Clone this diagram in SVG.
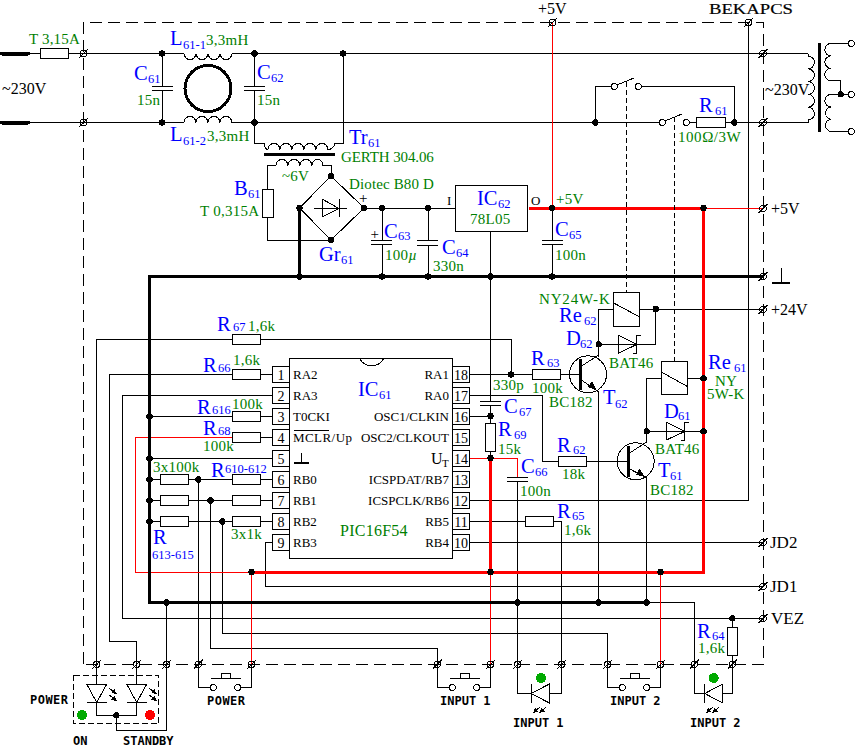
<svg xmlns="http://www.w3.org/2000/svg" width="856" height="747" viewBox="0 0 856 747">
<style>
svg{shape-rendering:crispEdges}
text{font-family:"Liberation Serif","Times New Roman",serif}
.w{fill:none;stroke:#000;stroke-width:1}
.o{fill:#fff;stroke:#000;stroke-width:1}
.e{fill:none;stroke:#000;stroke-width:1}
.f{fill:#000;stroke:none}
.r{fill:none;stroke:#f00;stroke-width:1}
.R{fill:none;stroke:#f00;stroke-width:3}
.K{fill:none;stroke:#000;stroke-width:3}
.d{fill:none;stroke:#000;stroke-width:1;stroke-dasharray:12 6}
.d2{fill:none;stroke:#000;stroke-width:1;stroke-dasharray:6 3}
.d3{fill:none;stroke:#000;stroke-width:1;stroke-dasharray:5 3}
.b{fill:#00f;font-size:20.5px}
.s{fill:#00f;font-size:12.5px}
.g{fill:#008000;font-size:15px;letter-spacing:.25px}
.k{fill:#000;font-size:16px}
.p{fill:#000;font-size:13px}
.n{fill:#000;font-size:14px;text-anchor:middle}
.m{fill:#000;font-family:"DejaVu Sans Mono","Liberation Mono",monospace;font-weight:bold;font-size:12px}
</style>
<defs>
<circle id="j" r="3.2" fill="#000"/>
<g id="t" fill="none" stroke="#000" stroke-width="1"><circle r="3.2" fill="none"/><path d="M-4.5 4.5L4.5-4.5"/></g>
<circle id="c" r="3" fill="#fff" stroke="#000" stroke-width="1"/>
<marker id="a" markerUnits="userSpaceOnUse" markerWidth="6" markerHeight="6" refX="5" refY="2.5" orient="auto"><path d="M0 0L5 2.5L0 5z" fill="#000"/></marker>
</defs>
<rect width="856" height="747" fill="#fff"/>

<g id="enclosure">
<path class="d" d="M83.5 664V22.5H763V664H83.5"/>
<text x="709" y="14" textLength="84" lengthAdjust="spacingAndGlyphs" style="font-size:15.500px;stroke:#000;stroke-width:.2">BEKAPCS</text>
</g>

<g id="connectors">
<path class="w" d="M28 53.500H40.500M68.500 53.500H184M232 53.500H808M28 122.500H184M232 122.500H659.500M689.500 122.500H696.300M725 122.500H808"/>
<path class="w" d="M162 53V86M162 90.700V122.500M254.500 53V86M254.500 90.700V143.500H264M343 53V143.500H335M267 189V165.500H276M323 165.500H331V176M267 217V240H331M331 176L364 208L331 240L299.500 208L331 176"/>
<path class="w" d="M364 208.500H455.500M382 208V240M382 244.300V276M428 208V240M428 245V276M490.500 231V401.300M490.500 405.300V423.500M490.500 451.500V458M552 208V240M552 244.300V276"/>
<path class="w" d="M595.300 122.500V86.500H611M641.500 86.500H734.300V122.500"/>
<path class="w" d="M598.700 357V309.500H613.700M639.700 309.500H763M655.700 309V344.500H598.700M661.300 378.500H646.700V442M687.700 378.500H703.500M646.700 431.500H703.500"/>
<path class="w" d="M96.700 664V339.500H232.500M260.500 339.500H511V374.500M469.300 374.500H532.300M560.700 374.500H580"/>
<path class="w" d="M136.700 664V641.700H109.300V374.500H232.500M260.500 374.500H272.300M272.300 395.500H122.300V618.500H763M149.500 416.500H232.500M260.500 416.500H272.300M260.500 437.500H272.300M149.500 458.500H272.300"/>
<path class="w" d="M149.500 479.500H160.500M188.500 479.500H232.500M260.500 479.500H272.300M149.500 500.500H160.500M188.500 500.500H232.500M260.500 500.500H272.300M149.500 521.500H160.500M188.500 521.500H232.500M260.500 521.500H272.300"/>
<path class="w" d="M198.300 479.500V664M210.500 500.500V648.500H437.300V664M222.300 521.500V633.500H607.700V664M272.300 542.500H265.300V586.500H763M469.300 542.500H763M469.300 521.500H525.300M553.300 521.500H561.700V664M469.300 500.500H748.300V22.500M469.300 416.500H490.500M469.300 395.500H542.700V461.500H558.300M586.700 461.500H628"/>
<path class="w" d="M517.700 481.300V664M598.700 392V602M646.700 478V602M646.700 602.500H694.300V664M732.300 618.300V627.500M732.300 655.500V664"/>
<path class="w" d="M166.700 602V730.500H116.300V715.300"/>
<path class="r" d="M552.500 22.500V208M703.500 208.500H763M251.500 572.500H135.500V437.500H232.500M251.500 572V664M490.500 572V664M660.500 572V664M469.300 458.500H517.700V477.300"/>
<path class="K" d="M299.500 208V276.500M763 276.500H149.500V602.500H646.700"/>
<path class="R" d="M529 208.500H703.500V572.500H251.500M490.500 458V572"/>
<g fill="none">
<use href="#t" x="83.500" y="53.500"/><use href="#t" x="83.500" y="122.500"/><use href="#t" x="552.500" y="22.500"/><use href="#t" x="748.300" y="22.500"/><use href="#t" x="763" y="53.500"/><use href="#t" x="763" y="122.500"/><use href="#t" x="763" y="208.500"/><use href="#t" x="763" y="276.500"/><use href="#t" x="763" y="309.500"/><use href="#t" x="763" y="542.500"/><use href="#t" x="763" y="586.500"/><use href="#t" x="763" y="618.500"/>
<use href="#t" x="96.700" y="664.300"/><use href="#t" x="136.700" y="664.300"/><use href="#t" x="166.700" y="664.300"/><use href="#t" x="198.300" y="664.300"/><use href="#t" x="251.500" y="664.300"/><use href="#t" x="437.300" y="664.300"/><use href="#t" x="490.500" y="664.300"/><use href="#t" x="517.700" y="664.300"/><use href="#t" x="561.700" y="664.300"/><use href="#t" x="607.700" y="664.300"/><use href="#t" x="660.500" y="664.300"/><use href="#t" x="694.300" y="664.300"/><use href="#t" x="732.300" y="664.300"/>
</g>
<g>
<use href="#j" x="162" y="53.500"/><use href="#j" x="254.500" y="53.500"/><use href="#j" x="343" y="53.500"/><use href="#j" x="162" y="122.500"/><use href="#j" x="254.500" y="122.500"/><use href="#j" x="595.300" y="122.500"/><use href="#j" x="734.300" y="122.500"/>
<use href="#j" x="331" y="176"/><use href="#j" x="331" y="240"/><use href="#j" x="299.500" y="208"/><use href="#j" x="364" y="208"/><use href="#j" x="382" y="208"/><use href="#j" x="428" y="208"/><use href="#j" x="552" y="208"/><use href="#j" x="703.500" y="208"/>
<use href="#j" x="299.500" y="276.500"/><use href="#j" x="382" y="276.500"/><use href="#j" x="428" y="276.500"/><use href="#j" x="490.500" y="276.500"/><use href="#j" x="552" y="276.500"/>
<use href="#j" x="655.700" y="309"/><use href="#j" x="598.700" y="344.300"/><use href="#j" x="511" y="374.500"/><use href="#j" x="703.500" y="378.300"/><use href="#j" x="490.500" y="416"/><use href="#j" x="646.700" y="431.300"/><use href="#j" x="703.500" y="431.300"/><use href="#j" x="490.500" y="458"/>
<use href="#j" x="149.500" y="416.500"/><use href="#j" x="149.500" y="458.500"/><use href="#j" x="149.500" y="479.500"/><use href="#j" x="149.500" y="500.500"/><use href="#j" x="149.500" y="521.500"/><use href="#j" x="198.300" y="479.500"/><use href="#j" x="210.500" y="500.500"/><use href="#j" x="222.300" y="521.500"/>
<use href="#j" x="251.500" y="572"/><use href="#j" x="490.500" y="572"/><use href="#j" x="660.500" y="572"/>
<use href="#j" x="166.700" y="602.500"/><use href="#j" x="517.700" y="602.500"/><use href="#j" x="598.700" y="602.500"/><use href="#j" x="646.700" y="602.500"/><use href="#j" x="732.300" y="618.300"/><use href="#j" x="116.300" y="715.300"/><use href="#j" x="840.700" y="94.300"/>
</g>
</g>

<g id="mains-in">
<path d="M2 53.500H28M2 122.500H28" fill="none" stroke="#000" stroke-width="4" stroke-linecap="round"/>
<text class="k" x="2" y="94">~230V</text>
</g>
<g id="F"><rect class="o" x="40.500" y="48.500" width="28" height="10"/><text class="g" x="29" y="44" textLength="51">T 3,15A</text></g>
<g id="L61-1"><path class="w" d="M184 53.500a6 6 0 0 0 12 0a6 6 0 0 0 12 0a6 6 0 0 0 12 0a6 6 0 0 0 12 0"/><text class="b" x="170" y="45">L</text><text class="s" x="183" y="49">61-1</text><text class="g" x="206" y="45">3,3mH</text></g>
<g id="L61-2"><path class="w" d="M184 122.500a6 6 0 0 1 12 0a6 6 0 0 1 12 0a6 6 0 0 1 12 0a6 6 0 0 1 12 0"/><text class="b" x="170" y="141">L</text><text class="s" x="183" y="145">61-2</text><text class="g" x="207" y="141">3,3mH</text></g>
<g id="toroid"><circle cx="208" cy="88.500" r="23" fill="none" stroke="#000" stroke-width="3"/></g>
<g id="C61"><path class="w" d="M152 86.500H173M152 90.500H173"/><text class="b" x="134" y="80">C</text><text class="s" x="148" y="83">61</text><text class="g" x="137" y="105">15n</text></g>
<g id="C62"><path class="w" d="M244 86.500H265M244 90.500H265"/><text class="b" x="257" y="79">C</text><text class="s" x="271" y="82">62</text><text class="g" x="257" y="105">15n</text></g>
<g id="Tr61">
<path class="w" d="M264 143.500Q265 149.500 268 149.500a6 6 0 0 1 12 0a6 6 0 0 1 12 0a6 6 0 0 1 12 0a6 6 0 0 1 12 0a6 6 0 0 1 12 0Q333 149.500 335 143.500"/>
<path class="K" d="M264 154.500H335"/>
<path class="w" d="M276 165.500a6 6 0 0 1 12 0a6 6 0 0 1 12 0a6 6 0 0 1 12 0a5.500 6 0 0 1 11 0"/>
<text class="b" x="349" y="144">Tr</text><text class="s" x="368" y="147">61</text><text class="g" x="341" y="162" textLength="93">GERTH 304.06</text><text class="g" x="282" y="181">~6V</text>
</g>
<g id="B61"><rect class="o" x="262.500" y="189.500" width="10.500" height="28"/><text class="b" x="234" y="195">B</text><text class="s" x="248" y="198">61</text><text class="g" x="200" y="216">T 0,315A</text></g>
<g id="Gr61">
<path class="w" d="M314 208.500H347M322 199V217L339 208.500ZM339 199V217"/>
<text class="g" x="349" y="189" textLength="85">Diotec B80 D</text><text class="p" x="359" y="203" style="font-size:15px">+</text><text class="b" x="319" y="261">Gr</text><text class="s" x="341" y="264">61</text>
</g>
<g id="C63"><path class="w" d="M371 240.500H392M371 244.500H392"/><text class="p" x="370.500" y="239" style="font-size:15px">+</text><text class="b" x="384" y="238">C</text><text class="s" x="398" y="240">63</text><text class="g" x="385" y="260">100<tspan font-style="italic">µ</tspan></text></g>
<g id="C64"><path class="w" d="M417 240.500H438M417 245.500H438"/><text class="b" x="442" y="254">C</text><text class="s" x="456" y="257">64</text><text class="g" x="433" y="271">330n</text></g>
<g id="IC62"><rect class="o" x="455.500" y="185.500" width="72" height="46"/><text class="p" x="447" y="205">I</text><text class="p" x="531" y="205">O</text><text class="b" x="477" y="205">IC</text><text class="s" x="498" y="208">62</text><text class="g" x="470" y="224">78L05</text></g>
<g id="C65"><path class="w" d="M542 240.500H563M542 244.500H563"/><text class="b" x="555" y="236">C</text><text class="s" x="569" y="239">65</text><text class="g" x="555" y="260">100n</text><text class="g" x="556" y="204">+5V</text></g>
<g id="switch-62"><use href="#c" x="614.300" y="86.500"/><use href="#c" x="638.300" y="86.500"/><path class="w" d="M617 85L634 78"/><path class="d3" d="M626.700 81.500V292"/></g>
<g id="switch-61"><use href="#c" x="662.300" y="122.500"/><use href="#c" x="686.300" y="122.500"/><path class="w" d="M665 121L682 114"/><path class="d3" d="M674.700 117V361"/></g>
<g id="R61"><rect class="o" x="696.300" y="117.500" width="28.700" height="10"/><text class="b" x="699" y="112">R</text><text class="s" x="715" y="115">61</text><text class="g" x="678" y="142" textLength="63">100Ω/3W</text></g>
<g id="T-out">
<path class="w" d="M808 53.500V56a6.400 6.400 0 0 1 0 12.800a6.400 6.400 0 0 1 0 12.800a6.400 6.400 0 0 1 0 12.800a6.400 6.400 0 0 1 0 12.800a6.400 6.400 0 0 1 0 12.800V122.500"/>
<path class="K" d="M819.300 43V131.500"/>
<path class="w" d="M848.300 43.500H831a6.200 6.200 0 0 0 0 12.400a6.200 6.200 0 0 0 0 12.400a6.200 6.200 0 0 0 0 12.400H840.700V94.500M851 94.500H831a6.200 6.200 0 0 0 0 12.400a6.200 6.200 0 0 0 0 12.300a6.200 6.200 0 0 0 0 12.300H848.300"/>
<use href="#c" x="851.300" y="43.500"/><use href="#c" x="851.300" y="94.500"/><use href="#c" x="851.300" y="131.500"/>
<text class="k" x="765" y="95">~230V</text>
</g>
<g id="rails">
<text class="k" x="538" y="14">+5V</text><text class="k" x="771" y="214">+5V</text><text class="k" x="771" y="315">+24V</text>
<text class="k" x="770" y="548" style="font-size:17px">JD2</text><text class="k" x="770" y="592" style="font-size:17px">JD1</text><text class="k" x="771" y="624" style="font-size:17px">VEZ</text>
<path d="M781.700 268V282" fill="none" stroke="#000" stroke-width="1"/><path d="M772.300 282.500H790" fill="none" stroke="#000" stroke-width="2"/>
</g>

<g id="IC61">
<rect class="o" x="289.500" y="358.500" width="163" height="200"/>
<path class="w" d="M360 358.500a12 9 0 0 0 23.500 0"/>
<g class="w">
<rect x="272.500" y="366.500" width="17" height="16"/><rect x="272.500" y="387.500" width="17" height="16"/><rect x="272.500" y="408.500" width="17" height="16"/><rect x="272.500" y="429.500" width="17" height="16"/><rect x="272.500" y="450.500" width="17" height="16"/><rect x="272.500" y="471.500" width="17" height="16"/><rect x="272.500" y="492.500" width="17" height="16"/><rect x="272.500" y="513.500" width="17" height="16"/><rect x="272.500" y="534.500" width="17" height="16"/>
<rect x="452.500" y="366.500" width="17" height="16"/><rect x="452.500" y="387.500" width="17" height="16"/><rect x="452.500" y="408.500" width="17" height="16"/><rect x="452.500" y="429.500" width="17" height="16"/><rect x="452.500" y="450.500" width="17" height="16"/><rect x="452.500" y="471.500" width="17" height="16"/><rect x="452.500" y="492.500" width="17" height="16"/><rect x="452.500" y="513.500" width="17" height="16"/><rect x="452.500" y="534.500" width="17" height="16"/>
</g>
<text class="n" x="281" y="379.500">1</text><text class="n" x="281" y="400.500">2</text><text class="n" x="281" y="421.500">3</text><text class="n" x="281" y="442.500">4</text><text class="n" x="281" y="463.500">5</text><text class="n" x="281" y="484.500">6</text><text class="n" x="281" y="505.500">7</text><text class="n" x="281" y="526.500">8</text><text class="n" x="281" y="547.500">9</text>
<text class="n" x="461" y="379.500">18</text><text class="n" x="461" y="400.500">17</text><text class="n" x="461" y="421.500">16</text><text class="n" x="461" y="442.500">15</text><text class="n" x="461" y="463.500">14</text><text class="n" x="461" y="484.500">13</text><text class="n" x="461" y="505.500">12</text><text class="n" x="461" y="526.500">11</text><text class="n" x="461" y="547.500">10</text>
<text class="p" x="293" y="379">RA2</text><text class="p" x="293" y="400">RA3</text><text class="p" x="293" y="421">T0CKI</text><text class="p" x="293" y="442" textLength="59">MCLR/Up</text><text class="p" x="293" y="484">RB0</text><text class="p" x="293" y="505">RB1</text><text class="p" x="293" y="526">RB2</text><text class="p" x="293" y="547">RB3</text>
<path class="w" d="M293.700 430.500H329M301.500 452.700V463"/><path d="M293.700 463H309" stroke="#000" stroke-width="2"/>
<g text-anchor="end"><text class="p" x="449" y="379">RA1</text><text class="p" x="449" y="400">RA0</text><text class="p" x="449" y="421">OSC1/CLKIN</text><text class="p" x="449" y="442">OSC2/CLKOUT</text><text class="p" x="449" y="484">ICSPDAT/RB7</text><text class="p" x="449" y="505">ICSPCLK/RB6</text><text class="p" x="449" y="526">RB5</text><text class="p" x="449" y="547">RB4</text></g>
<text class="k" x="431" y="464">U</text><text class="p" x="442" y="467" style="font-size:11px">T</text>
<text class="b" x="358" y="396">IC</text><text class="s" x="379" y="399">61</text><text class="g" x="340" y="536" style="font-size:16px">PIC16F54</text>
</g>

<g id="R67"><rect class="o" x="232.500" y="334.500" width="28" height="10"/><text class="b" x="217" y="331">R</text><text class="s" x="233" y="331">67</text><text class="g" x="248" y="331">1,6k</text></g>
<g id="R66"><rect class="o" x="232.500" y="369.500" width="28" height="10"/><text class="b" x="203" y="372">R</text><text class="s" x="218" y="372">66</text><text class="g" x="233" y="365">1,6k</text></g>
<g id="R616"><rect class="o" x="232.500" y="411.500" width="28" height="10"/><text class="b" x="197" y="414">R</text><text class="s" x="212" y="414">616</text><text class="g" x="232" y="409">100k</text></g>
<g id="R68"><rect class="o" x="232.500" y="432.500" width="28" height="10"/><text class="b" x="203" y="435">R</text><text class="s" x="218" y="435">68</text><text class="g" x="203" y="451">100k</text></g>
<g id="R610-612"><rect class="o" x="232.500" y="474.500" width="28" height="10"/><rect class="o" x="232.500" y="495.500" width="28" height="10"/><rect class="o" x="232.500" y="516.500" width="28" height="10"/><text class="b" x="211" y="477">R</text><text class="s" x="225" y="473">610-612</text><text class="g" x="231" y="539">3x1k</text></g>
<g id="R613-615"><rect class="o" x="160.500" y="474.500" width="28" height="10"/><rect class="o" x="160.500" y="495.500" width="28" height="10"/><rect class="o" x="160.500" y="516.500" width="28" height="10"/><text class="g" x="153" y="472">3x100k</text><text class="b" x="153" y="544">R</text><text class="s" x="152" y="559">613-615</text></g>

<g id="R63"><rect class="o" x="532.500" y="369.500" width="28" height="10"/><text class="b" x="531" y="365">R</text><text class="s" x="547" y="367">63</text><text class="g" x="532" y="393">100k</text><text class="g" x="493" y="390">330p</text></g>
<g id="T62"><circle class="e" cx="588" cy="374.300" r="18.500"/><path d="M580.300 359V390" stroke="#000" stroke-width="3"/><path class="w" d="M580 367L598.700 355M580 379L598.700 392"/><path class="f" d="M596.700 390L588 387L592 381Z"/><text class="g" x="549" y="407">BC182</text><text class="b" x="603" y="404">T</text><text class="s" x="615" y="408">62</text></g>
<g id="Re62"><rect class="o" x="613.500" y="292.500" width="26" height="34"/><path class="w" d="M613.700 303L639.700 317"/><text class="g" x="539" y="304" textLength="71">NY24W-K</text><text class="b" x="559" y="322">Re</text><text class="s" x="584" y="325">62</text></g>
<g id="D62"><path class="o" d="M618.300 335.300V353.300L636.700 344.500Z"/><path class="w" d="M633 353.300H636.700V335.300H640.700M618 344.500H636"/><text class="b" x="566" y="345">D</text><text class="s" x="580" y="348">62</text><text class="g" x="609" y="368">BAT46</text></g>
<g id="C67"><path class="w" d="M480 401.500H501M480 405.500H501"/><text class="b" x="504" y="413">C</text><text class="s" x="519" y="416">67</text></g>
<g id="R69"><rect class="o" x="485.500" y="423.500" width="10" height="28"/><text class="b" x="498" y="436">R</text><text class="s" x="514" y="439">69</text><text class="g" x="498" y="454">15k</text></g>
<g id="C66"><path class="w" d="M507 477.500H528M507 481.500H528"/><text class="b" x="521" y="473">C</text><text class="s" x="535" y="476">66</text><text class="g" x="520" y="496">100n</text></g>
<g id="R62"><rect class="o" x="558.500" y="456.500" width="28" height="10"/><text class="b" x="557" y="452">R</text><text class="s" x="573" y="454">62</text><text class="g" x="562" y="479">18k</text></g>
<g id="R65"><rect class="o" x="525.500" y="516.500" width="28" height="10"/><text class="b" x="557" y="518">R</text><text class="s" x="572" y="520">65</text><text class="g" x="564" y="535">1,6k</text></g>
<g id="T61"><circle class="e" cx="635.700" cy="461.300" r="18.500"/><path d="M628 446V476.700" stroke="#000" stroke-width="3"/><path class="w" d="M628 454L646.700 442M628 468L646.700 478"/><path class="f" d="M644.700 477L636 474.500L639.500 468.500Z"/><text class="b" x="658" y="477">T</text><text class="s" x="670" y="480">61</text><text class="g" x="650" y="495">BC182</text></g>
<g id="Re61"><rect class="o" x="661.500" y="361.500" width="26" height="33"/><path class="w" d="M661.300 372L687.700 386.700"/><text class="b" x="708" y="369">Re</text><text class="s" x="734" y="372">61</text><text class="g" x="715" y="386">NY</text><text class="g" x="707" y="399">5W-K</text></g>
<g id="D61"><path class="o" d="M666.300 422V440L684.700 431.500Z"/><path class="w" d="M681 440H684.700V422H688.700M666 431.500H684"/><text class="b" x="664" y="418">D</text><text class="s" x="678" y="420">61</text><text class="g" x="655" y="454">BAT46</text></g>
<g id="R64"><rect class="o" x="727.500" y="627.500" width="10" height="28"/><text class="b" x="697" y="638">R</text><text class="s" x="712" y="640">64</text><text class="g" x="698" y="653">1,6k</text></g>

<g id="led-panel">
<path class="d2" d="M73.500 675.500H158.500V723.500H73.500Z"/>
<path class="w" d="M96.700 664V684.500M87 684.500H106.500L96.700 702.500ZM87 702.500H106.500M96.700 702.500V715.500H136.700V702.500M136.700 664V684.500M127 684.500H146.500L136.700 702.500ZM127 702.500H146.500"/>
<path class="e" marker-end="url(#a)" d="M109.300 688.300L116.700 694"/><path class="e" marker-end="url(#a)" d="M109.300 695L116.700 701"/><path class="e" marker-end="url(#a)" d="M149.300 688.300L156.700 694"/><path class="e" marker-end="url(#a)" d="M149.300 695L156.700 701"/>
<circle cx="82" cy="715" r="5" fill="#0a0"/><circle cx="150" cy="715" r="5" fill="#f00"/>
<text class="m" x="30" y="704" textLength="38">POWER</text><text class="m" x="73" y="745">ON</text><text class="m" x="123" y="745">STANDBY</text>
</g>
<g id="btn-power"><path class="w" d="M198.300 664V687.500H210.300M240.700 687.500H251.500V664M211 678.500H241M221.700 678.500V673.500H230.300V678.500"/><use href="#c" x="213.300" y="687.500"/><use href="#c" x="237.700" y="687.500"/><text class="m" x="207" y="705" textLength="38">POWER</text></g>
<g id="btn-input-1"><path class="w" d="M437.300 664V687.500H449.300M479.700 687.500H490.500V664M450 678.500H480M460.300 678.500V673.500H469V678.500"/><use href="#c" x="452.300" y="687.500"/><use href="#c" x="476.700" y="687.500"/><text class="m" x="440" y="705">INPUT 1</text></g>
<g id="btn-input-2"><path class="w" d="M607.700 664V687.500H619.300M649.700 687.500H660.500V664M620 678.500H650M630.300 678.500V673.500H639V678.500"/><use href="#c" x="622.300" y="687.500"/><use href="#c" x="646.700" y="687.500"/><text class="m" x="610" y="705">INPUT 2</text></g>
<g id="led-input-1"><path class="w" d="M517.700 664V693.500H531.300M549.300 693.500H561.700V664M531.300 684V703M549.300 684V703L531.300 693.500Z"/><circle cx="541" cy="678" r="5" fill="#0a0"/><path class="e" marker-end="url(#a)" d="M540 707L533 713"/><path class="e" marker-end="url(#a)" d="M546.300 707L539.300 713"/><text class="m" x="513" y="727">INPUT 1</text></g>
<g id="led-input-2"><path class="w" d="M694.300 664V693.500H704.700M722.700 693.500H732.300V664M704.700 684V703M722.700 684V703L704.700 693.500Z"/><circle cx="713.700" cy="678" r="5" fill="#0a0"/><path class="e" marker-end="url(#a)" d="M713 707L706 713"/><path class="e" marker-end="url(#a)" d="M719.300 707L712.300 713"/><text class="m" x="690" y="727">INPUT 2</text></g>
</svg>
